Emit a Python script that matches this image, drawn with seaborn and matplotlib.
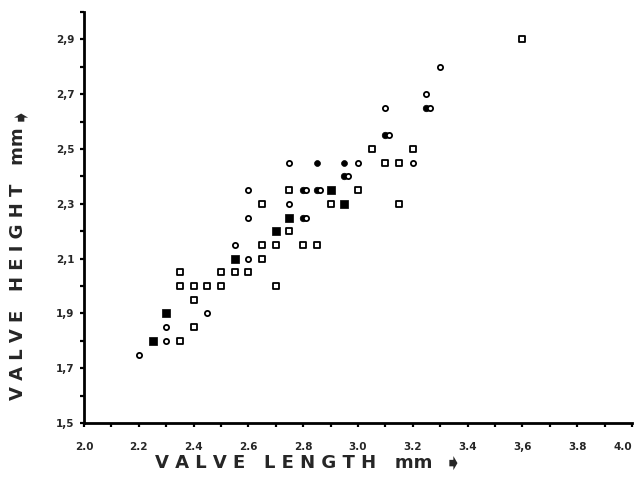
import numpy as np
import pandas as pd
import matplotlib
matplotlib.use('Agg')
import matplotlib.pyplot as plt
import seaborn as sns

# open circles
oc_x = [2.20, 2.30, 2.30, 2.45, 2.60, 2.55, 2.60, 2.60, 2.75, 2.75, 3.00, 3.20, 3.10, 3.25, 3.30]
oc_y = [1.75, 1.80, 1.85, 1.90, 2.10, 2.15, 2.25, 2.35, 2.30, 2.45, 2.45, 2.45, 2.65, 2.70, 2.80]
# filled circles
fc_x = [2.85, 2.95]
fc_y = [2.45, 2.45]
# filled squares
fs_x = [2.25, 2.30, 2.55, 2.70, 2.75, 2.90, 2.95]
fs_y = [1.80, 1.90, 2.10, 2.20, 2.25, 2.35, 2.30]
# open squares
os_x = [2.35, 2.40, 2.40, 2.35, 2.40, 2.45, 2.50, 2.35, 2.50, 2.55, 2.60, 2.70, 2.65, 2.65,
        2.70, 2.80, 2.85, 2.75, 2.65, 2.90, 3.15, 2.75, 3.00, 3.10, 3.15, 3.05, 3.20, 3.60]
os_y = [1.80, 1.85, 1.95, 2.00, 2.00, 2.00, 2.00, 2.05, 2.05, 2.05, 2.05, 2.00, 2.10, 2.15,
        2.15, 2.15, 2.15, 2.20, 2.30, 2.30, 2.30, 2.35, 2.35, 2.45, 2.45, 2.50, 2.50, 2.90]
# filled + open circle printed on top of each other
ov_x = [2.80, 2.80, 2.85, 2.95, 3.10, 3.25]
ov_y = [2.25, 2.35, 2.35, 2.40, 2.55, 2.65]

x_ticklabels = ['2.0', '2.2', '2.4', '2.6', '2.8', '3.0', '3.2', '3.4', '3,6', '3.8', '4.0']
y_ticklabels = ['1,5', '1,7', '1,9', '2,1', '2,3', '2,5', '2,7', '2,9']

sns.set_style('white')
plt.rcParams['font.family'] = ['DejaVu Sans']

fig = plt.figure(figsize=(6.39, 5.01), dpi=100)
ax = fig.add_axes([84 / 639, 78 / 501, 548 / 639, 411 / 501])

lw = 1.3
sns.scatterplot(x=os_x, y=os_y, ax=ax, marker='s', s=20, color='black',
                facecolor='white', edgecolor='black', linewidth=lw, zorder=3)
sns.scatterplot(x=fs_x, y=fs_y, ax=ax, marker='s', s=30, color='black',
                edgecolor='black', linewidth=0.5, zorder=3)
sns.scatterplot(x=fc_x, y=fc_y, ax=ax, marker='o', s=18, color='black',
                edgecolor='black', linewidth=0.5, zorder=3)
sns.scatterplot(x=oc_x, y=oc_y, ax=ax, marker='o', s=14, color='black',
                facecolor='white', edgecolor='black', linewidth=lw, zorder=3)
# overlapping symbols: solid circle with an open one just to its right
sns.scatterplot(x=ov_x, y=ov_y, ax=ax, marker='o', s=22, color='black',
                edgecolor='black', linewidth=0.5, zorder=4)
sns.scatterplot(x=np.array(ov_x) + 0.012, y=ov_y, ax=ax, marker='o', s=14, color='black',
                facecolor='white', edgecolor='black', linewidth=lw, zorder=5)

ax.set_xlim(2.0, 4.0)
ax.set_ylim(1.5, 3.0)
ax.set_xticks(np.arange(2.0, 4.01, 0.2))
ax.set_xticks(np.arange(2.0, 4.01, 0.1), minor=True)
ax.set_xticklabels(x_ticklabels)
ax.set_yticks(np.arange(1.5, 2.91, 0.2))
ax.set_yticks(np.arange(1.5, 3.01, 0.1), minor=True)
ax.set_yticklabels(y_ticklabels)

for lab in ax.get_xticklabels() + ax.get_yticklabels():
    lab.set_fontsize(7.5)
    lab.set_fontweight('bold')
ax.get_xticklabels()[-1].set_horizontalalignment('right')

ax.tick_params(axis='both', which='both', direction='out', length=3, width=1.6,
               color='black', bottom=True, left=True)
ax.tick_params(axis='x', which='major', pad=11)
ax.tick_params(axis='y', which='major', pad=4)

sns.despine(ax=ax)
for side in ('left', 'bottom'):
    ax.spines[side].set_linewidth(2)
    ax.spines[side].set_color('black')

fig.text(18 / 639, 1 - 264 / 501, 'V A L V E   H E I G H T   mm', rotation=90,
         ha='center', va='center', fontsize=13, fontweight='bold')
fig.text(18 / 639, 1 - 110 / 501, '\u27a7', rotation=90,
         ha='center', va='center_baseline', fontsize=16)
fig.text(294 / 639, 1 - 463 / 501, 'V A L V E   L E N G T H   mm',
         ha='center', va='center', fontsize=13, fontweight='bold')
fig.text(453 / 639, 1 - 463 / 501, '\u27a7',
         ha='center', va='center_baseline', fontsize=16)

fig.savefig('out.png', dpi=100)
